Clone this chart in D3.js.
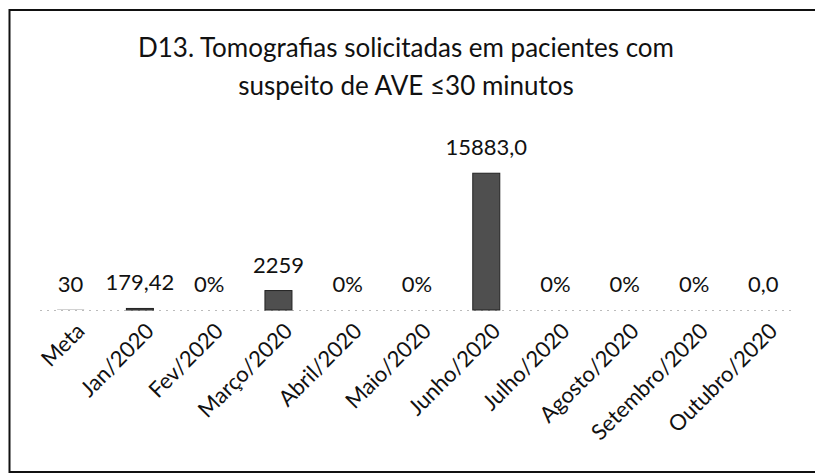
<!DOCTYPE html>
<html>
<head>
<meta charset="utf-8">
<script src="https://cdn.jsdelivr.net/npm/d3@7"></script>
<style>
  body { margin: 0; background: #fff; }
  svg text { font-family: Lato, "Open Sans", sans-serif; fill: #111; }
</style>
</head>
<body>
<div id="chart"></div>
<script>
const categories = ["Meta", "Jan/2020", "Fev/2020", "Março/2020", "Abril/2020", "Maio/2020",
    "Junho/2020", "Julho/2020", "Agosto/2020", "Setembro/2020", "Outubro/2020"];
const values = [30, 179.42, 0, 2259, 0, 0, 15883, 0, 0, 0, 0];
const valueLabels = ["30", "179,42", "0%", "2259", "0%", "0%", "15883,0", "0%", "0%", "0%", "0,0"];
const titleLines = ["D13. Tomografias solicitadas em pacientes com", "suspeito de AVE ≤30 minutos"];

const width = 815, height = 474;

const svg = d3.select("#chart")
    .append("svg")
    .attr("width", width)
    .attr("height", height);

// outer frame of the chart
svg.append("rect")
    .attr("x", 9.5)
    .attr("y", 10)
    .attr("width", 830)
    .attr("height", 462)
    .attr("fill", "none")
    .attr("stroke", "#111")
    .attr("stroke-width", 2);

svg.append("g")
    .selectAll("text")
    .data(titleLines)
    .enter().append("text")
    .attr("x", 406)
    .attr("y", (d, i) => 57 + i * 38)
    .attr("text-anchor", "middle")
    .attr("font-size", 26)
    .text(d => d);

const x = d3.scaleBand()
    .domain(categories)
    .range([36, 798])
    .paddingInner(0.61)
    .paddingOuter(0.305);

const y = d3.scaleLinear()
    .domain([0, 18000])
    .range([310, 155]);

// faint baseline (scanned axis)
svg.append("line")
    .attr("x1", 40)
    .attr("x2", 796)
    .attr("y1", y(0) + 0.5)
    .attr("y2", y(0) + 0.5)
    .attr("stroke", "#bbb")
    .attr("stroke-dasharray", "2,5");

svg.append("g")
    .selectAll("rect")
    .data(values)
    .enter().append("rect")
    .attr("x", (d, i) => x(categories[i]))
    .attr("width", x.bandwidth())
    .attr("y", d => y(d))
    .attr("height", d => y(0) - y(d))
    .attr("fill", "#4f4f4f")
    .attr("stroke", "#222")
    .attr("stroke-width", d => d > 100 ? 1 : 0);

svg.append("g")
    .selectAll("text")
    .data(values)
    .enter().append("text")
    .attr("x", (d, i) => x(categories[i]) + x.bandwidth() / 2)
    .attr("y", d => y(d) - 18)
    .attr("text-anchor", "middle")
    .attr("font-size", 22)
    .text((d, i) => valueLabels[i]);

const xAxis = svg.append("g")
    .attr("transform", `translate(0,${y(0)})`)
    .call(d3.axisBottom(x).tickSize(0).tickPadding(0));

xAxis.select(".domain").remove();

xAxis.selectAll("text")
    .attr("font-size", 22)
    .attr("fill", "#111")
    .attr("text-anchor", "end")
    .attr("dy", "0.35em")
    .attr("transform", "translate(10,17) rotate(-45)")
    .attr("x", 0)
    .attr("y", 0);
</script>
</body>
</html>
